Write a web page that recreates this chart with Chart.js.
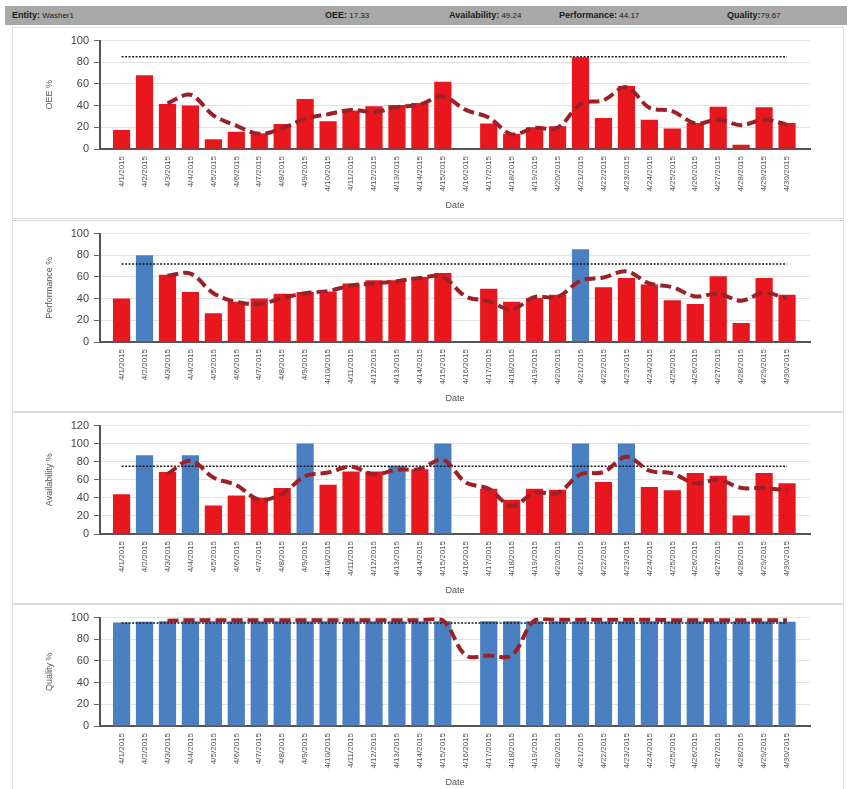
<!DOCTYPE html>
<html lang="en">
<head>
<meta charset="UTF-8">
<title>OEE - Washer1</title>
<script src="https://cdn.jsdelivr.net/npm/chart.js@4.4.0/dist/chart.umd.min.js"></script>
<style>
body{margin:0;background:#fff;font-family:Arial,"Liberation Sans",Helvetica,sans-serif;width:851px;height:789px;overflow:hidden;position:relative}
#head{position:absolute;left:5px;top:6px;width:842px;height:19px;background:#a8a8a8;font-size:8px;line-height:19px;color:#1a1a1a}
#head span{position:absolute;top:0;white-space:nowrap}
#head b{font-size:9px}
.panel{position:absolute;left:12px;width:830px;height:190px;border:1px solid #dcdcdc}
.panel canvas{display:block}
</style>
</head>
<body>

<div id="head">
  <span style="left:7px"><b>Entity:</b> Washer1</span>
  <span style="left:320px"><b>OEE:</b> 17.33</span>
  <span style="left:444px"><b>Availability:</b> 49.24</span>
  <span style="left:554px"><b>Performance:</b> 44.17</span>
  <span style="left:722px"><b>Quality:</b>79.67</span>
</div>

<div class="panel" style="top:27px"><canvas id="cOee"></canvas></div>
<div class="panel" style="top:220px"><canvas id="cPerf"></canvas></div>
<div class="panel" style="top:412px"><canvas id="cAvail"></canvas></div>
<div class="panel" style="top:604px"><canvas id="cQual"></canvas></div>

<script>
const dates = ['4/1/2015','4/2/2015','4/3/2015','4/4/2015','4/5/2015','4/6/2015','4/7/2015','4/8/2015','4/9/2015','4/10/2015',
  '4/11/2015','4/12/2015','4/13/2015','4/14/2015','4/15/2015','4/16/2015','4/17/2015','4/18/2015','4/19/2015','4/20/2015',
  '4/21/2015','4/22/2015','4/23/2015','4/24/2015','4/25/2015','4/26/2015','4/27/2015','4/28/2015','4/29/2015','4/30/2015'];

/* daily values */
const oee     = [17.5,68,41.5,40,9,16,14.5,23,46,25.5,35.5,39.5,40.5,42.5,62,0,23.5,14,20,21,84.5,28.5,58,27,19,24,39,4,38.5,24];
const perf    = [40,80,62,46,26.5,37,40,44.5,46,46.5,54,57,57,60,63.5,0,49,37,40.5,43.5,85.5,50.5,59,53,38.5,35,60.5,17.5,59,43.5];
const avail   = [44,87,68.5,87,31.5,42.5,40,51,100,54.5,69,69,75.5,71.5,100,0,50,38,50,49,100,57.5,100,52,48.5,67.5,64.5,20.5,67.5,56];
const quality = [95.5,96,96.5,96.5,96.5,96.5,96.5,96.5,96.5,96.5,96.5,96.5,96.5,96.5,96.5,0,96.5,96.5,96.5,96.5,96.5,96.5,96.5,96.5,96.5,96.5,96.5,96.5,96.5,96];

/* trend line (starts on 4/3) */
const oeeTrend     = [42,50,31,21.5,14,19,28,32,36,34,38.5,41,48.5,36,29,13.5,19.5,19.5,41.5,45,57,38,35,23.5,27,22,27,22.5];
const perfTrend    = [61,63,45,37,35,40.5,45,47,52,54,56,59,60,42,37.5,30,41.5,41.5,56.5,59.5,65,54,50.5,42,44.5,38,45.5,40];
const availTrend   = [66.5,81,62.5,54,38,44.5,64,68,74.5,66,71,72,82,57,50,31,45.5,45.5,66,68.5,85.5,70,67,56,60,51,51,48];
const qualityTrend = [97,97.5,97.5,97.5,97.5,97.5,97.5,97.5,97.5,97.5,97.5,97.5,97.5,65,65,65,97.5,98,98,98,98,98,97.5,97.5,97.5,97.5,97.5,97.5];
const trendStart = 3;

/* targets */
const oeeTarget = 85, perfTarget = 72, availTarget = 75, qualityTarget = 95;

const RED = '#e8171d', BLUE = '#4a7fc1', TREND = '#9c2127';

function makePanel(id, yTitle, values, trend, target, yMax){
  const bars = values.map((v,i)=>({x:i+1,y:v}));
  const goal = dates.map((d,i)=>({x:i+1,y:target}));
  const avg  = trend.map((v,i)=>({x:i+trendStart,y:v}));
  new Chart(document.getElementById(id),{
    type:'bar',
    data:{datasets:[
      {type:'line',data:avg,order:1,borderColor:TREND,borderWidth:4,borderDash:[11,5],
       pointRadius:0,fill:false,tension:0.35},
      {type:'line',data:goal,order:2,borderColor:'#1a1a1a',borderWidth:1.5,borderDash:[2,1.5],
       pointRadius:0,fill:false,tension:0},
      {type:'bar',data:bars,order:3,borderWidth:0,
       backgroundColor:values.map(v=>v>=target?BLUE:RED),
       categoryPercentage:1,barPercentage:0.75}
    ]},
    options:{
      responsive:true,maintainAspectRatio:false,animation:false,
      layout:{padding:{top:12.5,right:33,bottom:0,left:0}},
      plugins:{legend:{display:false},tooltip:{enabled:false}},
      scales:{
        x:{type:'linear',min:0.06,max:31,offset:false,
          grid:{display:false,drawTicks:false},
          border:{display:true,color:'#555',width:2},
          afterBuildTicks:s=>{s.ticks=dates.map((d,i)=>({value:i+1}));},
          afterFit:s=>{s.height=69;},
          ticks:{autoSkip:false,minRotation:90,maxRotation:90,padding:7,
            font:{size:8,family:'Arial'},color:'#555',
            callback:v=>dates[v-1]||''},
          title:{display:true,text:'Date',font:{size:9,family:'Arial'},color:'#555',padding:{top:0,bottom:7}}
        },
        y:{min:0,max:yMax,
          afterFit:s=>{s.width=87;},
          ticks:{stepSize:20,padding:5,font:{size:11,family:'Arial'},color:'#444'},
          grid:{color:'#e2e2e2',tickColor:'#666',tickLength:6},
          border:{display:true,color:'#555',width:2},
          title:{display:true,text:yTitle,font:{size:9,family:'Arial'},color:'#555',padding:{top:31,bottom:0}}
        }
      }
    }
  });
}

makePanel('cOee','OEE %',oee,oeeTrend,oeeTarget,100);
makePanel('cPerf','Performance %',perf,perfTrend,perfTarget,100);
makePanel('cAvail','Availability %',avail,availTrend,availTarget,120);
makePanel('cQual','Quality %',quality,qualityTrend,qualityTarget,100);
</script>
</body>
</html>
